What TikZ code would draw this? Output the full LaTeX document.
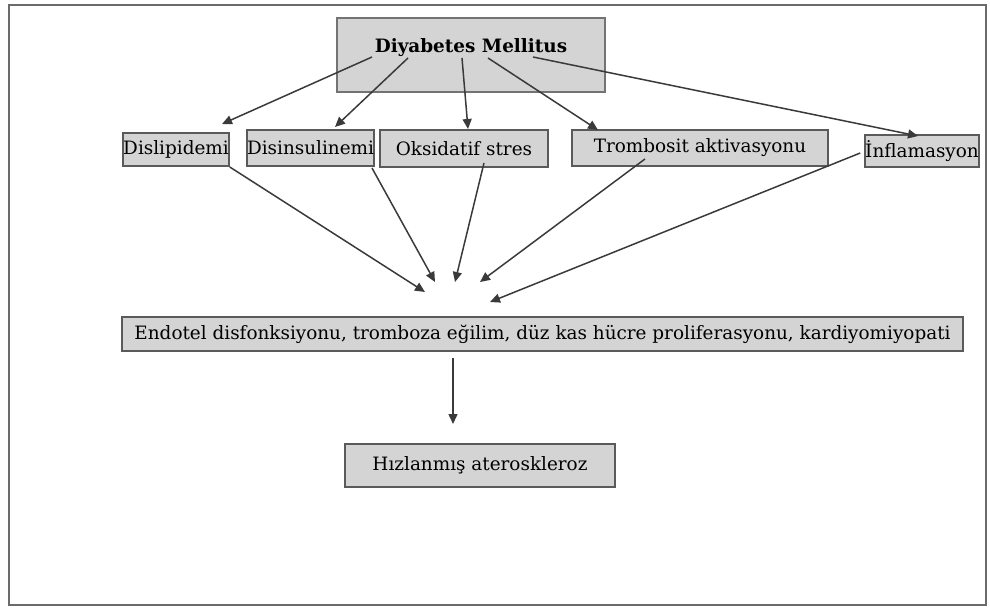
\documentclass[tikz,border=0pt]{standalone}
\usepackage{fontspec}
\setmainfont{DejaVu Serif}
\usetikzlibrary{arrows.meta}
\definecolor{boxgray}{HTML}{D4D4D4}
\definecolor{edgegray}{HTML}{5A5A5A}
\definecolor{linegray}{HTML}{3A3A3A}
\tikzset{
	kutu/.style={draw=edgegray, fill=boxgray, line width=2pt, inner sep=0pt, font=\fontsize{18.4}{20}\selectfont},
	ok/.style={draw=linegray, line width=1.5pt, -{Triangle[length=10pt,width=9pt]}}
}

\begin{document}
\begin{tikzpicture}[x=1pt, y=-1pt]
		%%%%% START %%%%%
		\useasboundingbox (0, 0) rectangle (990, 612);
		\draw[line width=2pt, color=edgegray!90] (9, 5) rectangle (986, 605);
		
		\node[kutu, draw=edgegray!85, minimum width=268pt, minimum height=74pt, text depth=18pt] (dm) at (471, 55) {\textbf{Diyabetes Mellitus}};
		
		\node[kutu, minimum width=104pt, minimum height=33pt] (dsl) at (176, 149.5) {Dislipidemi};
		\node[kutu, minimum width=125pt, minimum height=36pt] (dsi) at (310.5, 148) {Disinsulinemi};
		\node[kutu, minimum width=168pt, minimum height=37pt] (oks) at (464, 148.5) {Oksidatif stres};
		\node[kutu, minimum width=256pt, minimum height=36pt] (trm) at (700, 148) {Trombosit aktivasyonu};
		\node[kutu, minimum width=112pt, minimum height=32pt] (inf) at (922, 151) {İnflamasyon};
		
		\node[kutu, minimum width=841pt, minimum height=34pt] (end) at (542.5, 334) {Endotel disfonksiyonu, tromboza eğilim, düz kas hücre proliferasyonu, kardiyomiyopati};
		
		\node[kutu, minimum width=270pt, minimum height=43pt] (hiz) at (480, 465.5) {Hızlanmış ateroskleroz};
		
		% ust oklar
		\draw[ok] ([shift={(-99,2)}]dm.center) -- ([shift={(46,-8)}]dsl.north);
		\draw[ok] ([shift={(-63,3)}]dm.center) -- ([shift={(24.5,-2)}]dsi.north);
		\draw[ok] ([shift={(-9,3)}]dm.center) -- ([shift={(4,0)}]oks.north);
		\draw[ok] ([shift={(17,3)}]dm.center) -- ([shift={(-102,1)}]trm.north);
		\draw[ok] ([shift={(62,2)}]dm.center) -- ([shift={(-4,2)}]inf.north);
		
		% orta oklar
		\draw[ok] (dsl.south east) -- ([shift={(-117.5,-24)}]end.north);
		\draw[ok] ([shift={(-3,1)}]dsi.south east) -- ([shift={(-107.5,-34)}]end.north);
		\draw[ok] ([shift={(20,-5)}]oks.south) -- ([shift={(-87.5,-34)}]end.north);
		\draw[ok] ([shift={(-55,-8)}]trm.south) -- ([shift={(-62.5,-34)}]end.north);
		\draw[ok] ([shift={(-4,2)}]inf.west) -- ([shift={(-52.5,-14)}]end.north);
		
		% alt ok
		\draw[ok] ([shift={(-89.5,6)}]end.south) -- ([shift={(-27,-19)}]hiz.north);
		%%%%% END %%%%%
	\end{tikzpicture}
\end{document}
